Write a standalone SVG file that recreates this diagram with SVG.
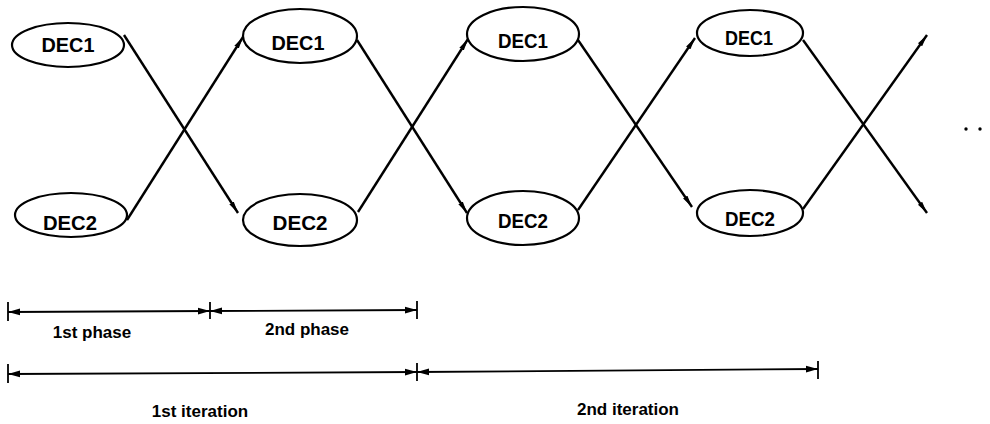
<svg xmlns="http://www.w3.org/2000/svg" width="990" height="424" viewBox="0 0 990 424">
<style>
.node ellipse{fill:#fff;stroke:#000;stroke-width:2.2}
.node text{font-family:"Liberation Sans",Arial,sans-serif;font-weight:bold;font-size:21px;text-anchor:middle;fill:#000}
.conn line{stroke:#000;stroke-width:2.4;fill:none}
.dim line{stroke:#000;stroke-width:1.8}
.lbl{font-family:"Liberation Sans",Arial,sans-serif;font-weight:bold;font-size:17px;text-anchor:middle;fill:#000}
</style>
<defs>
<marker id="ah" viewBox="0 0 12 6" refX="12" refY="3" markerWidth="12" markerHeight="6" markerUnits="userSpaceOnUse" orient="auto-start-reverse">
<path d="M0,0.4 L12,3 L0,5.6 z" fill="#000"/>
</marker>
<marker id="dh" viewBox="0 0 12 8" refX="12" refY="4" markerWidth="12" markerHeight="8" markerUnits="userSpaceOnUse" orient="auto-start-reverse">
<path d="M0,0.6 L12,4 L0,7.4 z" fill="#000"/>
</marker>
</defs>
<rect width="990" height="424" fill="#fff"/>

<g id="connectors" class="conn">
<line x1="124" y1="35" x2="238" y2="213" marker-end="url(#ah)"/>
<line x1="127" y1="220" x2="243" y2="37" marker-end="url(#ah)"/>
<line x1="357" y1="40" x2="467" y2="213" marker-end="url(#ah)"/>
<line x1="358" y1="212" x2="468" y2="39" marker-end="url(#ah)"/>
<line x1="578" y1="40" x2="692" y2="207" marker-end="url(#ah)"/>
<line x1="578" y1="210" x2="695" y2="38" marker-end="url(#ah)"/>
<line x1="803" y1="40" x2="927" y2="213" marker-end="url(#ah)"/>
<line x1="803" y1="209" x2="927" y2="35" marker-end="url(#ah)"/>
</g>

<g id="n1a" class="node"><ellipse cx="68" cy="45" rx="56" ry="22"/><text x="68" y="52" textLength="53" lengthAdjust="spacingAndGlyphs">DEC1</text></g>
<g id="n1b" class="node"><ellipse cx="71" cy="215" rx="56" ry="22"/><text x="70" y="230" textLength="54" lengthAdjust="spacingAndGlyphs">DEC2</text></g>
<g id="n2a" class="node"><ellipse cx="300" cy="36" rx="57" ry="27"/><text x="298" y="50" textLength="53" lengthAdjust="spacingAndGlyphs">DEC1</text></g>
<g id="n2b" class="node"><ellipse cx="300" cy="220" rx="57" ry="26"/><text x="300" y="230" textLength="55" lengthAdjust="spacingAndGlyphs">DEC2</text></g>
<g id="n3a" class="node"><ellipse cx="523" cy="34" rx="56" ry="27"/><text x="523" y="48" textLength="50" lengthAdjust="spacingAndGlyphs">DEC1</text></g>
<g id="n3b" class="node"><ellipse cx="523" cy="218" rx="56" ry="27"/><text x="523" y="228" textLength="50" lengthAdjust="spacingAndGlyphs">DEC2</text></g>
<g id="n4a" class="node"><ellipse cx="750" cy="33" rx="53" ry="23"/><text x="749" y="45" textLength="48" lengthAdjust="spacingAndGlyphs">DEC1</text></g>
<g id="n4b" class="node"><ellipse cx="750" cy="213" rx="53" ry="23"/><text x="750" y="226" textLength="50" lengthAdjust="spacingAndGlyphs">DEC2</text></g>

<g id="ellipsis">
<circle cx="966" cy="129" r="1.7" fill="#000"/>
<circle cx="980" cy="129" r="1.7" fill="#000"/>
</g>

<g id="dimensions" class="dim">
<line x1="8" y1="302" x2="8" y2="321"/>
<line x1="210" y1="302" x2="210" y2="319"/>
<line x1="417" y1="301" x2="417" y2="319"/>
<line x1="8" y1="312" x2="210" y2="311" marker-start="url(#dh)" marker-end="url(#dh)"/>
<line x1="210" y1="311" x2="417" y2="310" marker-start="url(#dh)" marker-end="url(#dh)"/>
<line x1="8" y1="364" x2="8" y2="383"/>
<line x1="417" y1="363" x2="417" y2="381"/>
<line x1="818" y1="361" x2="818" y2="379"/>
<line x1="8" y1="374" x2="417" y2="372" marker-start="url(#dh)" marker-end="url(#dh)"/>
<line x1="417" y1="372" x2="818" y2="369" marker-start="url(#dh)" marker-end="url(#dh)"/>
</g>

<g id="labels">
<text class="lbl" x="92" y="338">1st phase</text>
<text class="lbl" x="307" y="335">2nd phase</text>
<text class="lbl" x="200" y="417">1st iteration</text>
<text class="lbl" x="628" y="415">2nd iteration</text>
</g>
</svg>
